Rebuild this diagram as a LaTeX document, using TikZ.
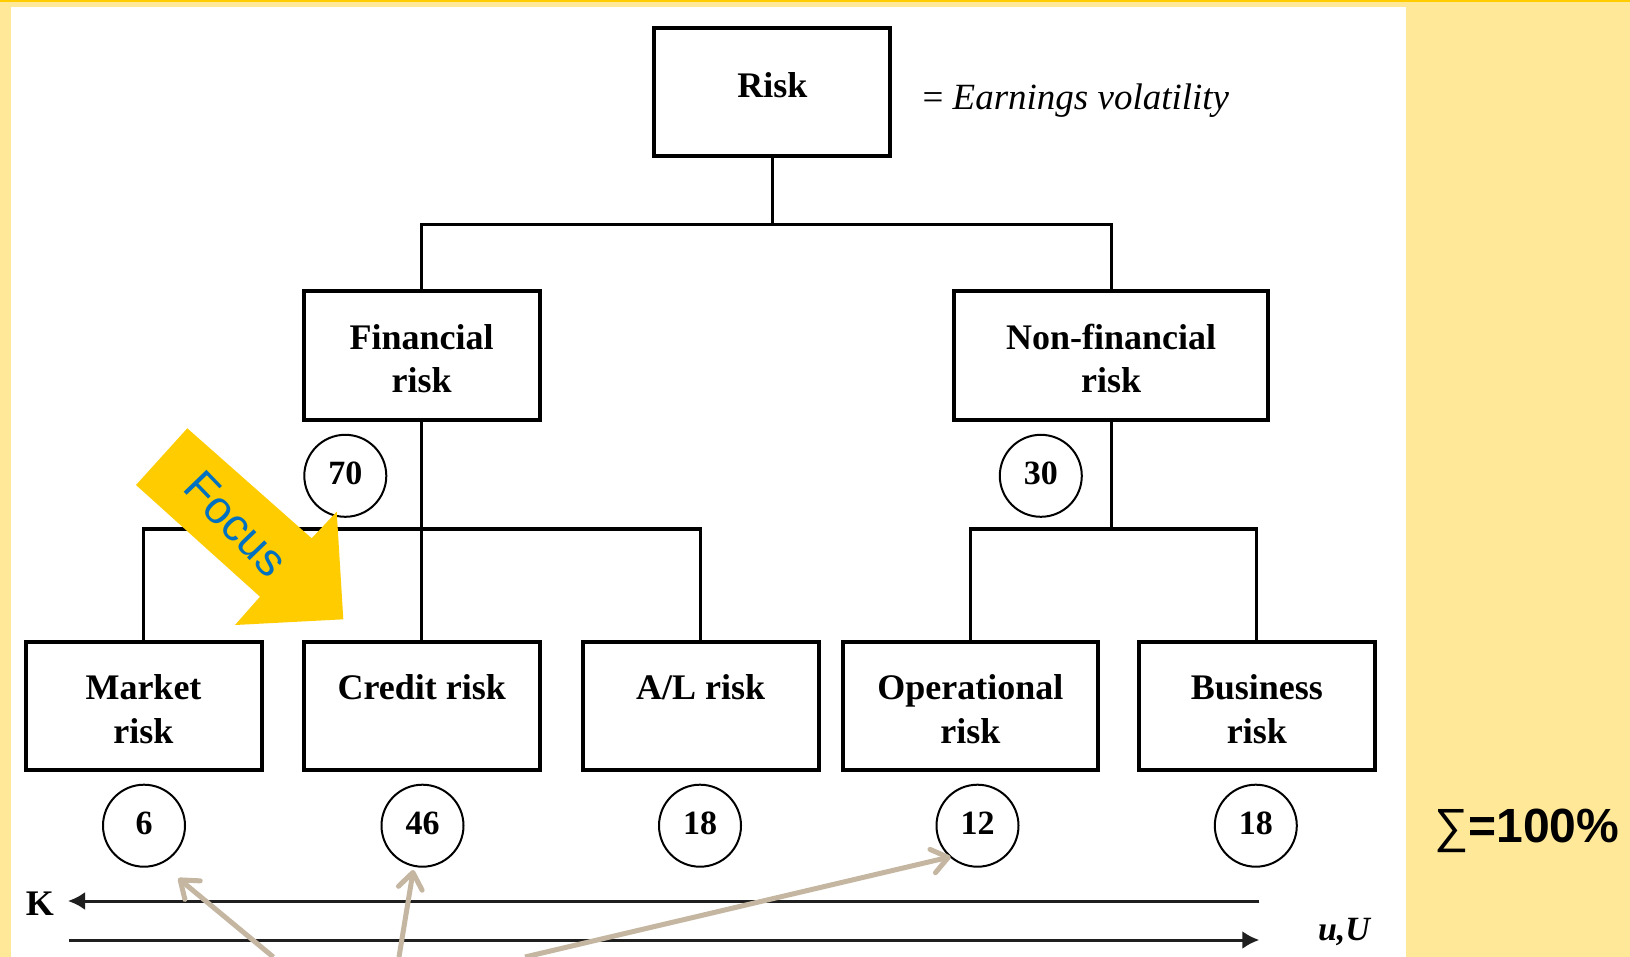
\documentclass[tikz,border=0pt]{standalone}
\usepackage{fontspec}
\setmainfont{Liberation Serif}
\newfontfamily\arialf{Liberation Sans}
\usetikzlibrary{arrows.meta}
\definecolor{pagebg}{HTML}{FFE999}
\definecolor{topbar}{HTML}{FFCC00}
\definecolor{focusgold}{HTML}{FFCC00}
\definecolor{focusblue}{HTML}{0070C0}
\definecolor{pointer}{HTML}{C4B6A0}
% two centred lines whose baseline is the first line
\newcommand{\twolines}[2]{\begin{tabular}[t]{@{}c@{}}#1\\#2\end{tabular}}

\begin{document}
\begin{tikzpicture}[x=1pt,y=-1pt,
  box/.style={draw, line width=4pt, minimum width=236pt, minimum height=128pt,
    inner sep=0pt, font=\fontsize{36}{43.5}\selectfont\bfseries,
    text height=0pt, text depth=12pt},
  share/.style={draw, circle, line width=2pt, minimum size=82pt, inner sep=0pt,
    font=\fontsize{34}{40}\selectfont\bfseries, text height=18pt, text depth=0pt},
  conn/.style={line width=3.3pt},
  axis/.style={line width=3pt, color=black!88, -{Latex[length=17pt,width=18pt]}},
  pointer/.style={line width=5pt, color=pointer,
    -{Straight Barb[length=16pt,width=24pt,round]}},
  focustext/.style={font=\arialf\fontsize{46}{46}\selectfont, text=focusblue,
    inner sep=0pt},
]
\useasboundingbox (0,0) rectangle (1630,957);

% page background and white panel
\fill[pagebg] (0,0) rectangle (1630,957);
\fill[topbar] (0,0) rectangle (1630,2.5);
\fill[white] (11,7) rectangle (1406,957);

% hierarchy of risks
\node[box, text height=10pt, text depth=0pt] (risk) at (772.3,92.5) {Risk};
\node[anchor=base west, font=\fontsize{37}{43.5}\selectfont] (ev) at (919,110)
  {= \textit{Earnings volatility}};

\node[box] (fin) at (421.7,355.5) {\twolines{Financial}{risk}};
\node[box, minimum width=314pt] (nonfin) at (1111.2,355.5) {\twolines{Non-financial}{risk}};

\node[box] (market) at (143.5,705.5) {\twolines{Market}{risk}};
\node[box] (credit) at (421.7,705.5) {Credit risk};
\node[box] (al) at (700.6,705.5) {A/L risk};
\node[box, minimum width=254.7pt] (oper) at (970.4,705.5) {\twolines{Operational}{risk}};
\node[box] (bus) at (1256.8,705.5) {\twolines{Business}{risk}};

% connectors
\coordinate (j1) at (772.3,224.5);
\coordinate (j2) at (421.7,529);
\coordinate (j3) at (1111.2,529);
\draw[conn] (risk.south) -- (j1);
\draw[conn] (fin.north) -- (fin.north |- j1) -- (nonfin.north |- j1) -- (nonfin.north);
\draw[conn] (fin.south) -- (credit.north);
\draw[conn] (market.north) -- (market.north |- j2) -- (al.north |- j2) -- (al.north);
\draw[conn] (nonfin.south) -- (j3);
\draw[conn] (oper.north) -- (oper.north |- j3) -- (bus.north |- j3) -- (bus.north);

% shares in percent
\node[share] (s70) at (345.3,475.8) {70};
\node[share] (s30) at (1040.8,475.8) {30};
\node[share] (s6) at (144,825.7) {6};
\node[share] (s46) at (422.5,825.7) {46};
\node[share] (s18a) at (700,825.7) {18};
\node[share] (s12) at (977.5,825.7) {12};
\node[share] (s18b) at (1255.8,825.7) {18};

% focus arrow
\fill[focusgold] (187.3,428.3) -- (311.7,538.3) -- (336.7,511.7) -- (343.3,619.3)
  -- (235,625) -- (260,596.7) -- (136,485) -- cycle;
\node[focustext, rotate=-46] (focus) at (236,524) {Focus};

% capital and utility axes
\coordinate (kR) at (1259.3,901);
\coordinate (kL) at (68,901);
\draw[axis] (kR) -- (kL);
\node[anchor=base, font=\fontsize{36}{40}\selectfont\bfseries] (klab) at (40,915) {K};
\coordinate (uL) at (69.3,940);
\coordinate (uR) at (1259.3,940);
\draw[axis] (uL) -- (uR);
\node[anchor=base, font=\fontsize{34}{40}\selectfont\bfseries\itshape] (ulab) at (1344,940) {u,U};

% total
\node[anchor=base west, inner sep=0pt] (sum) at (1434,842)
  {\fontsize{48}{48}\selectfont{\arialf ∑}{\arialf\bfseries =100\%}};

% pointers to the shares
\coordinate (p1) at (273.3,957);
\coordinate (p1t) at (178.3,878.3);
\coordinate (p2) at (399,957);
\coordinate (p2t) at (413.3,870);
\coordinate (p3) at (525,957);
\coordinate (p3t) at (950.7,856.8);
\draw[pointer] (p1) -- (p1t);
\draw[pointer] (p2) -- (p2t);
\draw[pointer] (p3) -- (p3t);
\end{tikzpicture}
\end{document}
